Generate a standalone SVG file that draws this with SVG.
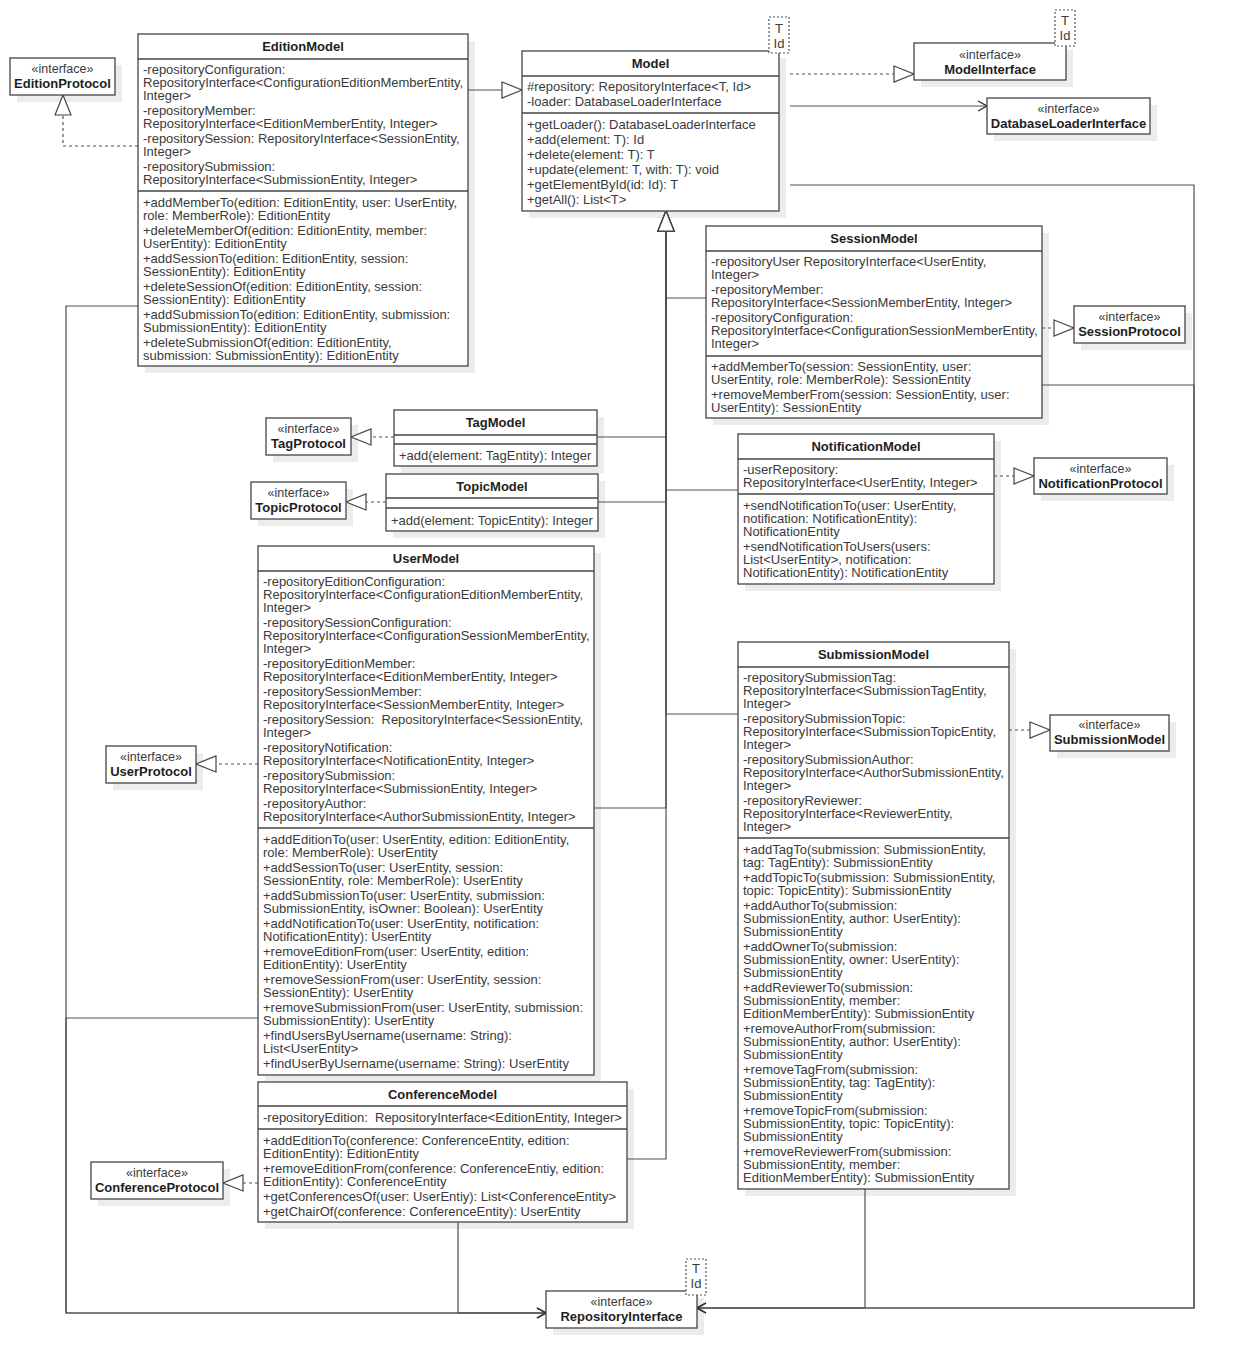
<svg xmlns="http://www.w3.org/2000/svg" width="1235" height="1368" viewBox="0 0 1235 1368">
<style>
  text { font-family: "Liberation Sans", Arial, sans-serif; font-size: 13px; fill: #3a3a3a; }
  .b { font-weight: bold; fill: #1e1e1e; text-anchor: middle; }
  .st { font-size: 12.5px; text-anchor: middle; fill: #3a3a3a; }
  .tp { text-anchor: middle; fill: #3a3a3a; }
  .box { fill: #fff; stroke: #454545; stroke-width: 1.3; }
  .sh { fill: #ececec; }
  .div { stroke: #454545; stroke-width: 1.3; }
  .tpl { fill: #fff; stroke: #555; stroke-width: 1.2; stroke-dasharray: 2 2; }
  .ln { fill: none; stroke: #505050; stroke-width: 1.2; }
  .dash { stroke-dasharray: 3 3; }
  .gen { marker-end: url(#tri); }
  .dep { marker-end: url(#open); }
</style>
<defs>
  <marker id="tri" markerUnits="userSpaceOnUse" markerWidth="22" markerHeight="20" refX="21" refY="9" orient="auto">
    <path d="M1,1 L21,9 L1,17 Z" fill="#fff" stroke="#454545" stroke-width="1.2"/>
  </marker>
  <marker id="open" markerUnits="userSpaceOnUse" markerWidth="12" markerHeight="12" refX="10" refY="6" orient="auto">
    <path d="M1,1 L10,6 L1,11" fill="none" stroke="#333" stroke-width="1.4"/>
  </marker>
</defs>

<rect width="1235" height="1368" fill="#fff"/>

<!-- shadows -->
<g id="shadows">
  <rect class="sh" x="17" y="65" width="105" height="37"/>
  <rect class="sh" x="145" y="41" width="330" height="332"/>
  <rect class="sh" x="529" y="58" width="257" height="160"/>
  <rect class="sh" x="921" y="50" width="152" height="37"/>
  <rect class="sh" x="994" y="105" width="163" height="36"/>
  <rect class="sh" x="713" y="233" width="336" height="192"/>
  <rect class="sh" x="1081" y="313" width="111" height="37"/>
  <rect class="sh" x="401" y="417" width="203" height="56"/>
  <rect class="sh" x="273" y="425" width="85" height="37"/>
  <rect class="sh" x="393" y="481" width="212" height="57"/>
  <rect class="sh" x="258" y="489" width="95" height="37"/>
  <rect class="sh" x="745" y="441" width="256" height="150"/>
  <rect class="sh" x="1041" y="465" width="133" height="36"/>
  <rect class="sh" x="265" y="553" width="336" height="529"/>
  <rect class="sh" x="113" y="753" width="90" height="37"/>
  <rect class="sh" x="745" y="649" width="271" height="547"/>
  <rect class="sh" x="1057" y="722" width="119" height="36"/>
  <rect class="sh" x="265" y="1089" width="369" height="140"/>
  <rect class="sh" x="98" y="1169" width="132" height="37"/>
  <rect class="sh" x="553" y="1298" width="151" height="37"/>
</g>

<!-- connectors -->
<g id="connectors">
  <!-- generalization EditionModel -> Model -->
  <path class="ln gen" d="M468,90 H522"/>
  <!-- generalizations into Model (shared trunk at x=666) -->
  <path class="ln gen" d="M706,298 H666 V211"/>
  <path class="ln gen" d="M597,437 H666 V211"/>
  <path class="ln gen" d="M738,490 H666 V211"/>
  <path class="ln gen" d="M598,502 H666 V211"/>
  <path class="ln gen" d="M738,714 H666 V211"/>
  <path class="ln gen" d="M594,808 H666 V211"/>
  <path class="ln gen" d="M627,1159 H666 V211"/>
  <!-- realizations -->
  <path class="ln dash gen" d="M138,146 H63 V95"/>
  <path class="ln dash gen" d="M790,74 H914"/>
  <path class="ln dash gen" d="M1042,328 H1074"/>
  <path class="ln dash gen" d="M394,437 H351"/>
  <path class="ln dash gen" d="M386,502 H346"/>
  <path class="ln dash gen" d="M994,476 H1034"/>
  <path class="ln dash gen" d="M1009,730 H1050"/>
  <path class="ln dash gen" d="M258,764 H196"/>
  <path class="ln dash gen" d="M258,1183 H223"/>
  <!-- dependencies -->
  <path class="ln dep" d="M790,106 H987"/>
  <path class="ln dep" d="M790,185 H1194 V1308 H697"/>
  <path class="ln dep" d="M1042,385 H1194 V1308 H697"/>
  <path class="ln dep" d="M865,1189 V1308 H697"/>
  <path class="ln dep" d="M138,306 H66 V1313 H546"/>
  <path class="ln dep" d="M258,1018 H66 V1313 H546"/>
  <path class="ln dep" d="M458,1222 V1313 H546"/>
</g>

<g id="EditionProtocol">
  <rect class="box" x="10" y="58" width="105" height="37"/>
  <text class="st" x="62.5" y="72.5">«interface»</text>
  <text class="b" x="62.5" y="87.5">EditionProtocol</text>
</g>

<g id="EditionModel">
  <rect class="box" x="138" y="34" width="330" height="332"/>
  <line class="div" x1="138" y1="59" x2="468" y2="59"/>
  <line class="div" x1="138" y1="191" x2="468" y2="191"/>
  <text class="b" x="303" y="51">EditionModel</text>
  <text x="143" y="73.5">-repositoryConfiguration:</text>
  <text x="143" y="86.5">RepositoryInterface&lt;ConfigurationEditionMemberEntity,</text>
  <text x="143" y="99.5">Integer&gt;</text>
  <text x="143" y="114.5">-repositoryMember:</text>
  <text x="143" y="127.5">RepositoryInterface&lt;EditionMemberEntity, Integer&gt;</text>
  <text x="143" y="142.5">-repositorySession: RepositoryInterface&lt;SessionEntity,</text>
  <text x="143" y="155.5">Integer&gt;</text>
  <text x="143" y="170.5">-repositorySubmission:</text>
  <text x="143" y="183.5">RepositoryInterface&lt;SubmissionEntity, Integer&gt;</text>
  <text x="143" y="206.5">+addMemberTo(edition: EditionEntity, user: UserEntity,</text>
  <text x="143" y="219.5">role: MemberRole): EditionEntity</text>
  <text x="143" y="234.5">+deleteMemberOf(edition: EditionEntity, member:</text>
  <text x="143" y="247.5">UserEntity): EditionEntity</text>
  <text x="143" y="262.5">+addSessionTo(edition: EditionEntity, session:</text>
  <text x="143" y="275.5">SessionEntity): EditionEntity</text>
  <text x="143" y="290.5">+deleteSessionOf(edition: EditionEntity, session:</text>
  <text x="143" y="303.5">SessionEntity): EditionEntity</text>
  <text x="143" y="318.5">+addSubmissionTo(edition: EditionEntity, submission:</text>
  <text x="143" y="331.5">SubmissionEntity): EditionEntity</text>
  <text x="143" y="346.5">+deleteSubmissionOf(edition: EditionEntity,</text>
  <text x="143" y="359.5">submission: SubmissionEntity): EditionEntity</text>
</g>

<g id="Model">
  <rect class="box" x="522" y="51" width="257" height="160"/>
  <line class="div" x1="522" y1="76" x2="779" y2="76"/>
  <line class="div" x1="522" y1="113" x2="779" y2="113"/>
  <text class="b" x="650.5" y="67.5">Model</text>
  <text x="527" y="90.5">#repository: RepositoryInterface&lt;T, Id&gt;</text>
  <text x="527" y="105.5">-loader: DatabaseLoaderInterface</text>
  <text x="527" y="128.5">+getLoader(): DatabaseLoaderInterface</text>
  <text x="527" y="143.5">+add(element: T): Id</text>
  <text x="527" y="158.5">+delete(element: T): T</text>
  <text x="527" y="173.5">+update(element: T, with: T): void</text>
  <text x="527" y="188.5">+getElementById(id: Id): T</text>
  <text x="527" y="203.5">+getAll(): List&lt;T&gt;</text>
  <rect class="tpl" x="769" y="17" width="20" height="36"/>
  <text class="tp" x="779" y="32.5">T</text>
  <text class="tp" x="779" y="47.5">Id</text>
</g>

<g id="ModelInterface">
  <rect class="box" x="914" y="43" width="152" height="37"/>
  <text class="st" x="990" y="58.5">«interface»</text>
  <text class="b" x="990" y="73.5">ModelInterface</text>
  <rect class="tpl" x="1055" y="10" width="20" height="36"/>
  <text class="tp" x="1065" y="25">T</text>
  <text class="tp" x="1065" y="40">Id</text>
</g>

<g id="DatabaseLoaderInterface">
  <rect class="box" x="987" y="98" width="163" height="36"/>
  <text class="st" x="1068.5" y="112.5">«interface»</text>
  <text class="b" x="1068.5" y="127.5">DatabaseLoaderInterface</text>
</g>

<g id="SessionModel">
  <rect class="box" x="706" y="226" width="336" height="192"/>
  <line class="div" x1="706" y1="251" x2="1042" y2="251"/>
  <line class="div" x1="706" y1="356" x2="1042" y2="356"/>
  <text class="b" x="874" y="242.5">SessionModel</text>
  <text x="711" y="265.5">-repositoryUser RepositoryInterface&lt;UserEntity,</text>
  <text x="711" y="278.5">Integer&gt;</text>
  <text x="711" y="293.5">-repositoryMember:</text>
  <text x="711" y="306.5">RepositoryInterface&lt;SessionMemberEntity, Integer&gt;</text>
  <text x="711" y="321.5">-repositoryConfiguration:</text>
  <text x="711" y="334.5">RepositoryInterface&lt;ConfigurationSessionMemberEntity,</text>
  <text x="711" y="347.5">Integer&gt;</text>
  <text x="711" y="370.5">+addMemberTo(session: SessionEntity, user:</text>
  <text x="711" y="383.5">UserEntity, role: MemberRole): SessionEntity</text>
  <text x="711" y="398.5">+removeMemberFrom(session: SessionEntity, user:</text>
  <text x="711" y="411.5">UserEntity): SessionEntity</text>
</g>

<g id="SessionProtocol">
  <rect class="box" x="1074" y="306" width="111" height="37"/>
  <text class="st" x="1129.5" y="320.5">«interface»</text>
  <text class="b" x="1129.5" y="335.5">SessionProtocol</text>
</g>

<g id="TagModel">
  <rect class="box" x="394" y="410" width="203" height="56"/>
  <line class="div" x1="394" y1="435" x2="597" y2="435"/>
  <line class="div" x1="394" y1="444" x2="597" y2="444"/>
  <text class="b" x="495.5" y="426.5">TagModel</text>
  <text x="399" y="459.5">+add(element: TagEntity): Integer</text>
</g>

<g id="TagProtocol">
  <rect class="box" x="266" y="418" width="85" height="37"/>
  <text class="st" x="308.5" y="432.5">«interface»</text>
  <text class="b" x="308.5" y="447.5">TagProtocol</text>
</g>

<g id="TopicModel">
  <rect class="box" x="386" y="474" width="212" height="57"/>
  <line class="div" x1="386" y1="498" x2="598" y2="498"/>
  <line class="div" x1="386" y1="508" x2="598" y2="508"/>
  <text class="b" x="492" y="490.5">TopicModel</text>
  <text x="391" y="524.5">+add(element: TopicEntity): Integer</text>
</g>

<g id="TopicProtocol">
  <rect class="box" x="251" y="482" width="95" height="37"/>
  <text class="st" x="298.5" y="496.5">«interface»</text>
  <text class="b" x="298.5" y="511.5">TopicProtocol</text>
</g>

<g id="NotificationModel">
  <rect class="box" x="738" y="434" width="256" height="150"/>
  <line class="div" x1="738" y1="459" x2="994" y2="459"/>
  <line class="div" x1="738" y1="494" x2="994" y2="494"/>
  <text class="b" x="866" y="451">NotificationModel</text>
  <text x="743" y="473.5">-userRepository:</text>
  <text x="743" y="486.5">RepositoryInterface&lt;UserEntity, Integer&gt;</text>
  <text x="743" y="509.5">+sendNotificationTo(user: UserEntity,</text>
  <text x="743" y="522.5">notification: NotificationEntity):</text>
  <text x="743" y="535.5">NotificationEntity</text>
  <text x="743" y="550.5">+sendNotificationToUsers(users:</text>
  <text x="743" y="563.5">List&lt;UserEntity&gt;, notification:</text>
  <text x="743" y="576.5">NotificationEntity): NotificationEntity</text>
</g>

<g id="NotificationProtocol">
  <rect class="box" x="1034" y="458" width="133" height="36"/>
  <text class="st" x="1100.5" y="472.5">«interface»</text>
  <text class="b" x="1100.5" y="487.5">NotificationProtocol</text>
</g>

<g id="UserModel">
  <rect class="box" x="258" y="546" width="336" height="529"/>
  <line class="div" x1="258" y1="571" x2="594" y2="571"/>
  <line class="div" x1="258" y1="828" x2="594" y2="828"/>
  <text class="b" x="426" y="562.5">UserModel</text>
  <text x="263" y="585.5">-repositoryEditionConfiguration:</text>
  <text x="263" y="598.5">RepositoryInterface&lt;ConfigurationEditionMemberEntity,</text>
  <text x="263" y="611.5">Integer&gt;</text>
  <text x="263" y="626.5">-repositorySessionConfiguration:</text>
  <text x="263" y="639.5">RepositoryInterface&lt;ConfigurationSessionMemberEntity,</text>
  <text x="263" y="652.5">Integer&gt;</text>
  <text x="263" y="667.5">-repositoryEditionMember:</text>
  <text x="263" y="680.5">RepositoryInterface&lt;EditionMemberEntity, Integer&gt;</text>
  <text x="263" y="695.5">-repositorySessionMember:</text>
  <text x="263" y="708.5">RepositoryInterface&lt;SessionMemberEntity, Integer&gt;</text>
  <text x="263" y="723.5" xml:space="preserve">-repositorySession:  RepositoryInterface&lt;SessionEntity,</text>
  <text x="263" y="736.5">Integer&gt;</text>
  <text x="263" y="751.5">-repositoryNotification:</text>
  <text x="263" y="764.5">RepositoryInterface&lt;NotificationEntity, Integer&gt;</text>
  <text x="263" y="779.5">-repositorySubmission:</text>
  <text x="263" y="792.5">RepositoryInterface&lt;SubmissionEntity, Integer&gt;</text>
  <text x="263" y="807.5">-repositoryAuthor:</text>
  <text x="263" y="820.5">RepositoryInterface&lt;AuthorSubmissionEntity, Integer&gt;</text>
  <text x="263" y="843.5">+addEditionTo(user: UserEntity, edition: EditionEntity,</text>
  <text x="263" y="856.5">role: MemberRole): UserEntity</text>
  <text x="263" y="871.5">+addSessionTo(user: UserEntity, session:</text>
  <text x="263" y="884.5">SessionEntity, role: MemberRole): UserEntity</text>
  <text x="263" y="899.5">+addSubmissionTo(user: UserEntity, submission:</text>
  <text x="263" y="912.5">SubmissionEntity, isOwner: Boolean): UserEntity</text>
  <text x="263" y="927.5">+addNotificationTo(user: UserEntity, notification:</text>
  <text x="263" y="940.5">NotificationEntity): UserEntity</text>
  <text x="263" y="955.5">+removeEditionFrom(user: UserEntity, edition:</text>
  <text x="263" y="968.5">EditionEntity): UserEntity</text>
  <text x="263" y="983.5">+removeSessionFrom(user: UserEntity, session:</text>
  <text x="263" y="996.5">SessionEntity): UserEntity</text>
  <text x="263" y="1011.5">+removeSubmissionFrom(user: UserEntity, submission:</text>
  <text x="263" y="1024.5">SubmissionEntity): UserEntity</text>
  <text x="263" y="1039.5">+findUsersByUsername(username: String):</text>
  <text x="263" y="1052.5">List&lt;UserEntity&gt;</text>
  <text x="263" y="1067.5">+findUserByUsername(username: String): UserEntity</text>
</g>

<g id="UserProtocol">
  <rect class="box" x="106" y="746" width="90" height="37"/>
  <text class="st" x="151" y="760.5">«interface»</text>
  <text class="b" x="151" y="775.5">UserProtocol</text>
</g>

<g id="SubmissionModel">
  <rect class="box" x="738" y="642" width="271" height="547"/>
  <line class="div" x1="738" y1="667" x2="1009" y2="667"/>
  <line class="div" x1="738" y1="838" x2="1009" y2="838"/>
  <text class="b" x="873.5" y="658.5">SubmissionModel</text>
  <text x="743" y="681.5">-repositorySubmissionTag:</text>
  <text x="743" y="694.5">RepositoryInterface&lt;SubmissionTagEntity,</text>
  <text x="743" y="707.5">Integer&gt;</text>
  <text x="743" y="722.5">-repositorySubmissionTopic:</text>
  <text x="743" y="735.5">RepositoryInterface&lt;SubmissionTopicEntity,</text>
  <text x="743" y="748.5">Integer&gt;</text>
  <text x="743" y="763.5">-repositorySubmissionAuthor:</text>
  <text x="743" y="776.5">RepositoryInterface&lt;AuthorSubmissionEntity,</text>
  <text x="743" y="789.5">Integer&gt;</text>
  <text x="743" y="804.5">-repositoryReviewer:</text>
  <text x="743" y="817.5">RepositoryInterface&lt;ReviewerEntity,</text>
  <text x="743" y="830.5">Integer&gt;</text>
  <text x="743" y="853.5">+addTagTo(submission: SubmissionEntity,</text>
  <text x="743" y="866.5">tag: TagEntity): SubmissionEntity</text>
  <text x="743" y="881.5">+addTopicTo(submission: SubmissionEntity,</text>
  <text x="743" y="894.5">topic: TopicEntity): SubmissionEntity</text>
  <text x="743" y="909.5">+addAuthorTo(submission:</text>
  <text x="743" y="922.5">SubmissionEntity, author: UserEntity):</text>
  <text x="743" y="935.5">SubmissionEntity</text>
  <text x="743" y="950.5">+addOwnerTo(submission:</text>
  <text x="743" y="963.5">SubmissionEntity, owner: UserEntity):</text>
  <text x="743" y="976.5">SubmissionEntity</text>
  <text x="743" y="991.5">+addReviewerTo(submission:</text>
  <text x="743" y="1004.5">SubmissionEntity, member:</text>
  <text x="743" y="1017.5">EditionMemberEntity): SubmissionEntity</text>
  <text x="743" y="1032.5">+removeAuthorFrom(submission:</text>
  <text x="743" y="1045.5">SubmissionEntity, author: UserEntity):</text>
  <text x="743" y="1058.5">SubmissionEntity</text>
  <text x="743" y="1073.5">+removeTagFrom(submission:</text>
  <text x="743" y="1086.5">SubmissionEntity, tag: TagEntity):</text>
  <text x="743" y="1099.5">SubmissionEntity</text>
  <text x="743" y="1114.5">+removeTopicFrom(submission:</text>
  <text x="743" y="1127.5">SubmissionEntity, topic: TopicEntity):</text>
  <text x="743" y="1140.5">SubmissionEntity</text>
  <text x="743" y="1155.5">+removeReviewerFrom(submission:</text>
  <text x="743" y="1168.5">SubmissionEntity, member:</text>
  <text x="743" y="1181.5">EditionMemberEntity): SubmissionEntity</text>
</g>

<g id="SubmissionModelInterface">
  <rect class="box" x="1050" y="715" width="119" height="36"/>
  <text class="st" x="1109.5" y="728.5">«interface»</text>
  <text class="b" x="1109.5" y="743.5">SubmissionModel</text>
</g>

<g id="ConferenceModel">
  <rect class="box" x="258" y="1082" width="369" height="140"/>
  <line class="div" x1="258" y1="1106" x2="627" y2="1106"/>
  <line class="div" x1="258" y1="1129" x2="627" y2="1129"/>
  <text class="b" x="442.5" y="1098.5">ConferenceModel</text>
  <text x="263" y="1121.5" xml:space="preserve">-repositoryEdition:  RepositoryInterface&lt;EditionEntity, Integer&gt;</text>
  <text x="263" y="1144.5">+addEditionTo(conference: ConferenceEntity, edition:</text>
  <text x="263" y="1157.5">EditionEntity): EditionEntity</text>
  <text x="263" y="1172.5">+removeEditionFrom(conference: ConferenceEntiy, edition:</text>
  <text x="263" y="1185.5">EditionEntity): ConferenceEntity</text>
  <text x="263" y="1200.5">+getConferencesOf(user: UserEntiy): List&lt;ConferenceEntity&gt;</text>
  <text x="263" y="1215.5">+getChairOf(conference: ConferenceEntity): UserEntity</text>
</g>

<g id="ConferenceProtocol">
  <rect class="box" x="91" y="1162" width="132" height="37"/>
  <text class="st" x="157" y="1176.5">«interface»</text>
  <text class="b" x="157" y="1191.5">ConferenceProtocol</text>
</g>

<g id="RepositoryInterface">
  <rect class="box" x="546" y="1291" width="151" height="37"/>
  <text class="st" x="621.5" y="1305.5">«interface»</text>
  <text class="b" x="621.5" y="1320.5">RepositoryInterface</text>
  <rect class="tpl" x="686" y="1259" width="20" height="36"/>
  <text class="tp" x="696" y="1272.5">T</text>
  <text class="tp" x="696" y="1287.5">Id</text>
</g>
</svg>
